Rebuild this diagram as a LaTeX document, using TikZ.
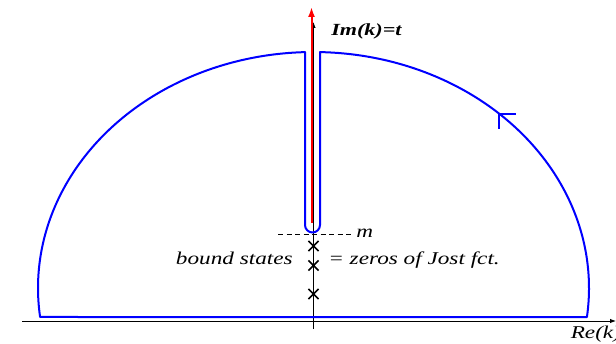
\documentclass[tikz,border=0pt]{standalone}
\usepackage{fontspec}
\setmainfont{Liberation Serif}
\usetikzlibrary{arrows.meta,shapes.misc}
\tikzset{
  contour/.style={blue,line width=2pt},
  axis/.style={black,line width=0.9pt,-{Latex[length=6pt,width=4.5pt]}},
  redarrow/.style={red,line width=2pt,-{Latex[length=10pt,width=7pt]}},
  lbl/.style={font=\fontsize{18}{21}\selectfont\itshape,inner sep=0pt,xscale=1.29},
  blbl/.style={font=\fontsize{17}{20}\selectfont\bfseries\itshape,inner sep=0pt,xscale=1.3},
  crossmark/.style={cross out,draw=black,line width=1.6pt,minimum size=8.5pt,inner sep=0pt},
  dashline/.style={black,line width=0.9pt,dash pattern=on 5pt off 3.5pt}
}
\begin{document}
\begin{tikzpicture}[x=1pt,y=-1pt]
\useasboundingbox (0,0) rectangle (616,344);
% axes
\coordinate (xl) at (22,321);
\coordinate (xr) at (616,321);
\coordinate (yb) at (313.5,329);
\coordinate (yt) at (313.5,22);
\draw[axis] (xl) -- (xr);
\draw[axis] (yb) -- (yt);
% contour
\draw[contour,line join=round]
  (40.1,317) arc[start angle=172.94,end angle=268.23,x radius=275.5,y radius=236]
  -- (305,225) arc[start angle=180,end angle=0,radius=7.5]
  -- (320,52.1) arc[start angle=271.35,end angle=367.06,x radius=275.5,y radius=236]
  -- cycle;
% direction marker
\coordinate (mk) at (498.5,114);
\coordinate (mkr) at (515.5,114);
\coordinate (mkd) at (498.5,129);
\draw[contour] (mkr) -- (mk) -- (mkd);
% red arrow
\coordinate (rb) at (311.5,223);
\coordinate (rt) at (311.5,7);
\draw[redarrow] (rb) -- (rt);
% dashed line at m
\coordinate (dl) at (278,234.3);
\coordinate (dr) at (353,234.3);
\draw[dashline] (dl) -- (dr);
% crosses
\node[crossmark] (c1) at (313.5,246) {};
\node[crossmark] (c2) at (313.5,265.5) {};
\node[crossmark] (c3) at (313.5,294) {};
% labels
\node[blbl,anchor=base west] (im) at (331,36) {Im(k)=t};
\node[lbl,anchor=base west] (m) at (356,238) {m};
\node[lbl,anchor=base east] (bs) at (293,265) {bound states};
\node[lbl,anchor=base west] (zj) at (328,265) {= zeros of Jost fct.};
\node[lbl,anchor=base west] (re) at (570.5,338.5) {Re(k)};
\end{tikzpicture}
\end{document}
